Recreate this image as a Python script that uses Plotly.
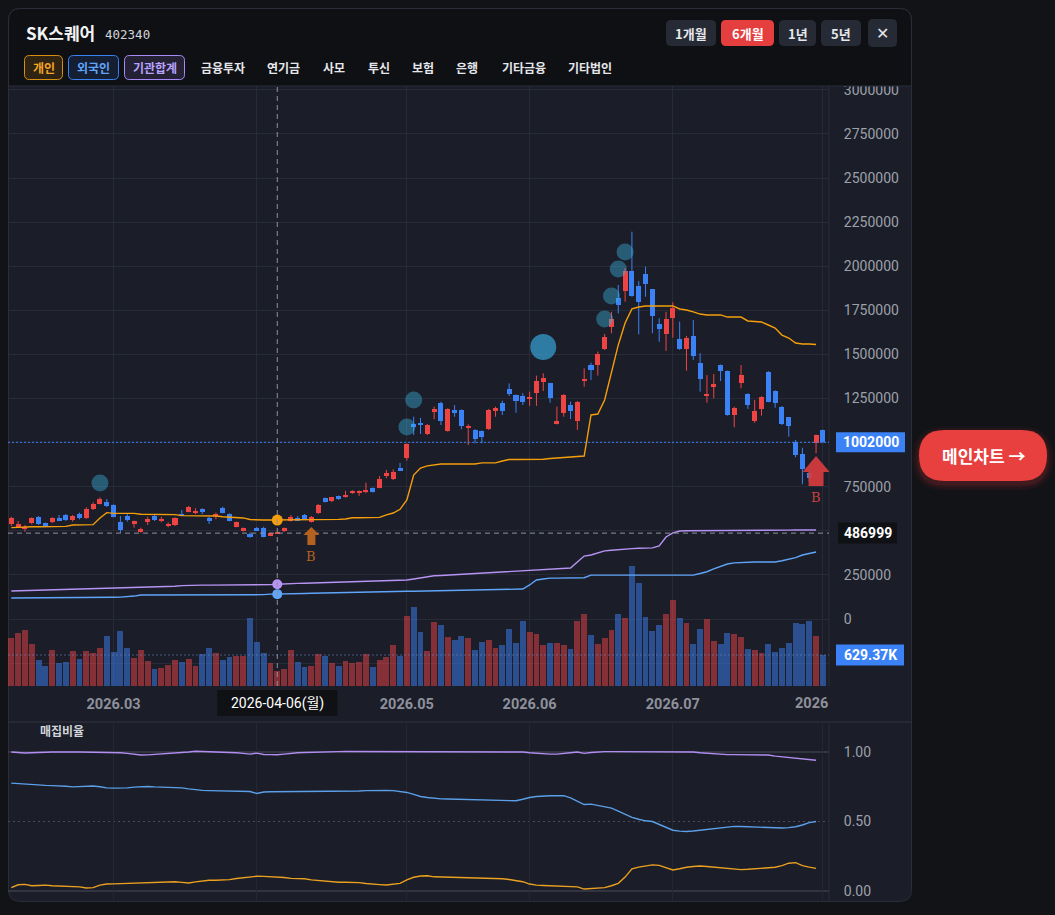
import plotly.graph_objects as go

W, H = 1055, 915

# ---------------- data ----------------
open_ = [537000, 523000, 510000, 543000, 577000, 543000, 548000, 571000, 590000, 561000,
         595000, 571000, 624000, 654000, 662000, 646000, 552000, 586000, 537000, 495000,
         552000, 584000, 561000, 529000, 533000, 590000, 608000, 599000, 622000, 571000,
         586000, 628000, 595000, 523000, 501000, 480000, 514000, 518000, 475000, 487000,
         499000, 557000, 574000, 590000, 552000, 599000, 684000, 671000, 697000, 693000,
         713000, 713000, 722000, 741000, 744000, 811000, 792000, 854000, 911000, 1106000,
         1110000, 1047000, 1175000, 1223000, 1068000, 1185000, 1185000, 1087000, 1072000, 1066000,
         1077000, 1181000, 1226000, 1302000, 1270000, 1264000, 1251000, 1283000, 1345000, 1336000,
         1106000, 1170000, 1213000, 1124000, 1349000, 1440000, 1440000, 1531000, 1657000, 1822000,
         1860000, 1973000, 1888000, 1954000, 1869000, 1673000, 1614000, 1708000, 1588000, 1529000,
         1605000, 1453000, 1266000, 1321000, 1440000, 1406000, 1157000, 1340000, 1276000, 1123000,
         1189000, 1402000, 1294000, 1204000, 1144000, 1005000, 934000, 826000, 996000, 1072000]
high = [580000, 556000, 533000, 577000, 584000, 547000, 577000, 590000, 595000, 590000,
        603000, 633000, 662000, 690000, 680000, 650000, 584000, 599000, 558000, 518000,
        580000, 594000, 580000, 548000, 577000, 618000, 641000, 628000, 628000, 580000,
        603000, 637000, 599000, 552000, 519000, 492000, 522000, 523000, 490000, 494000,
        519000, 590000, 584000, 595000, 584000, 652000, 689000, 692000, 700000, 727000,
        731000, 729000, 773000, 746000, 811000, 845000, 849000, 885000, 996000, 1147000,
        1140000, 1106000, 1204000, 1232000, 1195000, 1213000, 1188000, 1104000, 1076000, 1069000,
        1191000, 1204000, 1238000, 1336000, 1273000, 1280000, 1289000, 1380000, 1393000, 1339000,
        1204000, 1276000, 1232000, 1236000, 1421000, 1453000, 1516000, 1616000, 1742000, 1894000,
        1990000, 2196000, 1916000, 1998000, 1871000, 1705000, 1742000, 1796000, 1686000, 1605000,
        1695000, 1507000, 1383000, 1389000, 1443000, 1409000, 1204000, 1440000, 1280000, 1242000,
        1263000, 1406000, 1297000, 1208000, 1145000, 1015000, 971000, 845000, 1046000, 1074000]
low = [527000, 516000, 495000, 537000, 533000, 524000, 544000, 556000, 556000, 552000,
       565000, 567000, 618000, 650000, 635000, 577000, 489000, 552000, 518000, 489000,
       533000, 556000, 548000, 520000, 527000, 584000, 605000, 594000, 594000, 539000,
       565000, 599000, 554000, 520000, 496000, 461000, 499000, 463000, 471000, 482000,
       493000, 552000, 556000, 561000, 547000, 595000, 661000, 662000, 675000, 688000,
       709000, 697000, 713000, 717000, 741000, 798000, 788000, 839000, 898000, 1043000,
       1049000, 1043000, 1132000, 1100000, 1062000, 1147000, 1076000, 987000, 996000, 996000,
       1072000, 1147000, 1157000, 1264000, 1170000, 1213000, 1208000, 1208000, 1293000, 1226000,
       1103000, 1147000, 1134000, 1072000, 1317000, 1355000, 1380000, 1525000, 1620000, 1733000,
       1799000, 1827000, 1614000, 1827000, 1620000, 1572000, 1520000, 1595000, 1526000, 1408000,
       1469000, 1289000, 1226000, 1251000, 1349000, 1153000, 1087000, 1308000, 1191000, 1113000,
       1153000, 1229000, 1198000, 1100000, 1034000, 917000, 764000, 777000, 940000, 996000]
close = [574000, 537000, 523000, 571000, 539000, 529000, 571000, 561000, 561000, 584000,
         571000, 622000, 652000, 680000, 639000, 580000, 505000, 561000, 556000, 512000,
         565000, 561000, 565000, 540000, 571000, 586000, 637000, 612000, 608000, 561000,
         594000, 603000, 557000, 548000, 514000, 467000, 501000, 467000, 486000, 490000,
         514000, 580000, 557000, 567000, 580000, 646000, 663000, 690000, 679000, 703000,
         726000, 726000, 731000, 722000, 792000, 826000, 835000, 841000, 992000, 1090000,
         1100000, 1100000, 1191000, 1124000, 1191000, 1170000, 1096000, 1096000, 1019000, 1030000,
         1185000, 1195000, 1181000, 1276000, 1238000, 1232000, 1260000, 1349000, 1368000, 1255000,
         1124000, 1270000, 1181000, 1229000, 1361000, 1412000, 1503000, 1597000, 1699000, 1780000,
         1973000, 1833000, 1799000, 1899000, 1720000, 1643000, 1699000, 1765000, 1529000, 1592000,
         1493000, 1359000, 1276000, 1331000, 1408000, 1157000, 1195000, 1383000, 1213000, 1179000,
         1260000, 1232000, 1223000, 1106000, 1096000, 930000, 849000, 798000, 1043000, 1002000]
volume = [968000, 1070000, 1137000, 853000, 528000, 406000, 731000, 473000, 487000, 717000,
          548000, 717000, 664000, 765000, 1015000, 690000, 1117000, 765000, 574000, 731000,
          508000, 339000, 371000, 426000, 528000, 493000, 548000, 406000, 644000, 765000,
          676000, 528000, 583000, 615000, 615000, 1374000, 887000, 664000, 461000, 305000,
          345000, 731000, 481000, 380000, 406000, 644000, 609000, 461000, 406000, 508000,
          461000, 481000, 644000, 380000, 528000, 583000, 832000, 615000, 1421000, 1598000,
          1090000, 711000, 1293000, 1238000, 989000, 934000, 1015000, 968000, 731000, 899000,
          934000, 765000, 832000, 1157000, 879000, 1320000, 1090000, 1056000, 832000, 867000,
          867000, 832000, 751000, 1320000, 1462000, 1035000, 853000, 968000, 1137000, 1462000,
          1374000, 2436000, 2085000, 1395000, 1117000, 1238000, 1462000, 1746000, 1374000, 1285000,
          853000, 1157000, 1354000, 920000, 853000, 1082000, 1056000, 1001000, 751000, 731000,
          676000, 847000, 696000, 765000, 879000, 1285000, 1259000, 1320000, 1015000, 629370]

# cumulative net-buy lines drawn on the price scale (개인 / 기관합계 / 외국인)
line_individual = [518000, 521000, 523000, 523000, 523000, 523000, 523000, 524000, 525000, 533000,
                   533000, 533000, 535000, 573000, 603000, 599000, 599000, 599000, 599000, 594000,
                   594000, 594000, 594000, 594000, 592000, 586000, 586000, 586000, 586000, 586000,
                   584000, 580000, 578000, 578000, 573000, 564000, 561000, 561000, 561000, 561000,
                   565000, 565000, 565000, 565000, 565000, 565000, 565000, 565000, 565000, 567000,
                   574000, 574000, 574000, 574000, 576000, 590000, 601000, 622000, 675000, 816000,
                   856000, 868000, 873000, 879000, 879000, 879000, 879000, 879000, 879000, 885000,
                   885000, 885000, 896000, 904000, 904000, 904000, 904000, 904000, 906000, 910000,
                   913000, 916000, 919000, 921000, 924000, 1157000, 1162000, 1242000, 1400000, 1554000,
                   1678000, 1758000, 1769000, 1775000, 1775000, 1775000, 1775000, 1775000, 1758000, 1752000,
                   1741000, 1729000, 1724000, 1724000, 1724000, 1712000, 1712000, 1712000, 1690000, 1687000,
                   1684000, 1667000, 1650000, 1610000, 1593000, 1565000, 1559000, 1559000, 1556000]
line_institution = [159000, 160000, 161000, 162000, 163000, 164000, 165000, 166000, 167000, 168000,
                    169000, 170000, 171000, 172000, 173000, 174000, 175000, 176000, 177000, 178000,
                    179000, 180000, 181000, 183000, 186000, 189000, 191000, 191000, 192000, 192000,
                    192000, 193000, 193000, 193000, 193000, 194000, 194000, 194000, 195000, 197000,
                    200000, 201000, 202000, 203000, 204000, 205000, 206000, 206000, 207000, 208000,
                    209000, 210000, 211000, 212000, 214000, 215000, 217000, 219000, 221000, 227000,
                    233000, 240000, 245000, 247000, 249000, 251000, 254000, 256000, 258000, 261000,
                    263000, 265000, 267000, 270000, 272000, 274000, 276000, 278000, 281000, 283000,
                    285000, 287000, 289000, 323000, 357000, 363000, 374000, 386000, 390000, 394000,
                    397000, 399000, 401000, 402000, 403000, 414000, 465000, 488000, 499000, 500000,
                    500000, 501000, 501000, 501000, 502000, 502000, 502000, 503000, 503000, 503000,
                    503000, 504000, 504000, 504000, 504000, 505000, 505000, 505000, 505000]
line_foreign = [119000, 119000, 119000, 119000, 119000, 120000, 120000, 120000, 120000, 120000,
                121000, 121000, 122000, 122000, 123000, 123000, 124000, 125000, 130000, 136000,
                136000, 136000, 136000, 136000, 136000, 136000, 136000, 136000, 136000, 136000,
                136000, 136000, 136000, 136000, 136000, 136000, 136000, 138000, 141000, 141000,
                142000, 143000, 144000, 145000, 146000, 147000, 148000, 149000, 150000, 151000,
                152000, 153000, 154000, 154000, 155000, 155000, 156000, 156000, 157000, 157000,
                158000, 158000, 159000, 159000, 159000, 160000, 161000, 162000, 163000, 164000,
                165000, 166000, 167000, 168000, 169000, 170000, 193000, 221000, 227000, 232000,
                232000, 232000, 232000, 233000, 234000, 249000, 249000, 249000, 249000, 249000,
                249000, 249000, 249000, 249000, 249000, 249000, 249000, 249000, 249000, 249000,
                249000, 258000, 268000, 284000, 300000, 312000, 318000, 321000, 323000, 323000,
                323000, 323000, 323000, 330000, 340000, 348000, 363000, 372000, 380000]

# 매집비율 panel
ratio_institution = [1.000, 0.995, 0.993, 0.995, 0.998, 1.000, 1.000, 1.000, 0.998, 1.000,
                     1.000, 1.000, 0.999, 1.000, 1.000, 1.000, 0.995, 0.990, 0.983, 0.978,
                     0.979, 0.982, 0.983, 0.986, 0.990, 0.995, 1.000, 1.005, 1.004, 1.000,
                     1.000, 1.000, 0.998, 0.995, 0.990, 0.985, 0.992, 0.982, 0.981, 0.980,
                     0.985, 0.992, 0.995, 0.996, 0.998, 1.000, 1.004, 1.004, 1.003, 1.004,
                     1.004, 1.003, 1.004, 1.004, 1.004, 1.003, 1.004, 1.004, 1.004, 1.004,
                     1.003, 1.004, 1.004, 1.004, 1.004, 1.003, 1.004, 1.004, 1.004, 1.003,
                     1.003, 1.004, 1.004, 1.003, 1.002, 1.000, 0.995, 0.990, 0.986, 0.985,
                     0.985, 0.988, 0.995, 1.000, 0.990, 0.996, 1.002, 1.003, 1.003, 1.003,
                     1.003, 1.003, 1.002, 1.003, 1.003, 1.003, 1.003, 1.002, 1.002, 1.001,
                     1.000, 0.995, 0.991, 0.988, 0.985, 0.981, 0.981, 0.981, 0.981, 0.981,
                     0.981, 0.978, 0.970, 0.966, 0.962, 0.958, 0.951, 0.946, 0.941]
ratio_foreign = [0.776, 0.772, 0.767, 0.763, 0.761, 0.760, 0.758, 0.757, 0.754, 0.749,
                 0.750, 0.753, 0.755, 0.750, 0.742, 0.740, 0.740, 0.742, 0.747, 0.751,
                 0.752, 0.749, 0.747, 0.746, 0.745, 0.742, 0.735, 0.728, 0.724, 0.722,
                 0.721, 0.720, 0.719, 0.718, 0.717, 0.716, 0.702, 0.712, 0.714, 0.714,
                 0.715, 0.716, 0.716, 0.715, 0.715, 0.714, 0.714, 0.715, 0.714, 0.714,
                 0.716, 0.719, 0.722, 0.724, 0.724, 0.723, 0.722, 0.716, 0.709, 0.695,
                 0.680, 0.673, 0.667, 0.663, 0.662, 0.661, 0.660, 0.658, 0.655, 0.652,
                 0.651, 0.650, 0.650, 0.649, 0.649, 0.660, 0.673, 0.680, 0.685, 0.685,
                 0.685, 0.686, 0.670, 0.644, 0.622, 0.625, 0.617, 0.608, 0.596, 0.575,
                 0.553, 0.530, 0.516, 0.505, 0.500, 0.478, 0.458, 0.437, 0.431, 0.428,
                 0.432, 0.438, 0.444, 0.449, 0.455, 0.461, 0.465, 0.464, 0.462, 0.460,
                 0.458, 0.455, 0.452, 0.453, 0.456, 0.462, 0.475, 0.492, 0.500]
ratio_individual = [0.024, 0.045, 0.048, 0.038, 0.040, 0.042, 0.038, 0.036, 0.036, 0.036,
                    0.030, 0.022, 0.024, 0.042, 0.050, 0.051, 0.053, 0.055, 0.057, 0.060,
                    0.060, 0.062, 0.064, 0.066, 0.067, 0.062, 0.058, 0.066, 0.073, 0.077,
                    0.077, 0.077, 0.082, 0.090, 0.096, 0.102, 0.106, 0.105, 0.104, 0.103,
                    0.097, 0.091, 0.091, 0.088, 0.080, 0.075, 0.070, 0.066, 0.063, 0.063,
                    0.063, 0.060, 0.054, 0.048, 0.046, 0.043, 0.048, 0.055, 0.080, 0.099,
                    0.108, 0.110, 0.102, 0.101, 0.100, 0.100, 0.099, 0.098, 0.096, 0.094,
                    0.092, 0.091, 0.088, 0.083, 0.076, 0.067, 0.050, 0.042, 0.040, 0.038,
                    0.036, 0.035, 0.034, 0.030, 0.014, 0.019, 0.021, 0.024, 0.038, 0.055,
                    0.100, 0.159, 0.172, 0.182, 0.188, 0.184, 0.170, 0.151, 0.160, 0.171,
                    0.176, 0.180, 0.176, 0.172, 0.168, 0.163, 0.158, 0.154, 0.156, 0.159,
                    0.162, 0.167, 0.171, 0.183, 0.200, 0.204, 0.183, 0.172, 0.163]

tick_idx = [15, 36, 58, 76, 97, 119]
tick_text = ["2026.03", "2026.04", "2026.05", "2026.06", "2026.07", "2026"]

price_ticks = [-250000, 0, 250000, 500000, 750000, 1000000, 1250000, 1500000, 1750000,
               2000000, 2250000, 2500000, 2750000, 3000000]

bubble_idx = [13, 58, 59, 78, 87, 88, 89, 90]
bubble_val = [771000, 1089000, 1242000, 1542000, 1701000, 1831000, 1985000, 2081000]
bubble_big = [False, False, False, True, False, False, False, False]

buy_idx = [44, 118]
buy_big = [False, True]

cross_idx = 39
cross_price = 486999
cross_date = "2026-04-06(월)"

# ---------------- geometry / style ----------------
XL, XR = 8, 829
MAIN_T, MAIN_B = 86, 686
SUB_T, SUB_B = 724, 900
BAR0, BAR_STEP = 11.3, 6.82
P_ZERO_Y, P_PER_PX = 619, 5670
V_PER_PX = 20300
R_ZERO_Y, R_PX = 891, 139

x_range = [(XL - BAR0) / BAR_STEP, (XR - BAR0) / BAR_STEP]
price_range = [(P_ZERO_Y - MAIN_B) * P_PER_PX, (P_ZERO_Y - MAIN_T) * P_PER_PX]
vol_range = [0, (MAIN_B - MAIN_T) * V_PER_PX]
ratio_range = [(R_ZERO_Y - SUB_B) / R_PX, (R_ZERO_Y - SUB_T) / R_PX]

PAGE = "#121317"
CARD = "#0f1014"
PANE = "#1b1d28"
BORDER = "#2b2e39"
GRID = "#272a37"
UP = "#ef4444"
DOWN = "#3b82f6"
UP_V = "rgba(239,68,68,0.50)"
DOWN_V = "rgba(59,130,246,0.50)"
C_IND = "#f59e0b"
C_INST = "#b794f4"
C_FOR = "#60a5fa"
CJK = "Noto Sans CJK KR, Noto Sans, sans-serif"
NUM = "Roboto, Noto Sans CJK KR, sans-serif"


def px(x):
    return x / W


def py(y):
    return 1 - y / H


def price_y(v):
    return P_ZERO_Y - v / P_PER_PX


def rpath(x0, y0, x1, y1, r, top=True, bottom=True):
    rt = r if top else 0
    rb = r if bottom else 0
    p = f"M{px(x0 + rt)},{py(y0)} L{px(x1 - rt)},{py(y0)} "
    p += f"Q{px(x1)},{py(y0)} {px(x1)},{py(y0 + rt)} " if rt else ""
    p += f"L{px(x1)},{py(y1 - rb)} "
    p += f"Q{px(x1)},{py(y1)} {px(x1 - rb)},{py(y1)} " if rb else ""
    p += f"L{px(x0 + rb)},{py(y1)} "
    p += f"Q{px(x0)},{py(y1)} {px(x0)},{py(y1 - rb)} " if rb else ""
    p += f"L{px(x0)},{py(y0 + rt)} "
    p += f"Q{px(x0)},{py(y0)} {px(x0 + rt)},{py(y0)} " if rt else ""
    return p + "Z"


shapes = []
annotations = []


def add_rrect(x0, y0, x1, y1, r, fill, line=None, lw=1, layer="above", top=True, bottom=True):
    shapes.append(dict(type="path", path=rpath(x0, y0, x1, y1, r, top, bottom), xref="paper", yref="paper",
                       fillcolor=fill, line=dict(color=line or "rgba(0,0,0,0)", width=lw if line else 0),
                       layer=layer))


def add_text(text, x, y, size, color, family=CJK, bold=False, xanchor="center"):
    annotations.append(dict(text=text, x=px(x), y=py(y), xref="paper", yref="paper", showarrow=False,
                            xanchor=xanchor, yanchor="middle",
                            font=dict(family=family, size=size, color=color, weight="bold" if bold else "normal")))


def add_hline_px(x0, x1, y, color, width=1, dash="solid", layer="above"):
    shapes.append(dict(type="line", xref="paper", yref="paper", x0=px(x0), x1=px(x1), y0=py(y), y1=py(y),
                       line=dict(color=color, width=width, dash=dash), layer=layer))


def add_vline_px(x, y0, y1, color, width=1, layer="above"):
    shapes.append(dict(type="line", xref="paper", yref="paper", x0=px(x), x1=px(x), y0=py(y0), y1=py(y1),
                       line=dict(color=color, width=width), layer=layer))


# card + panes
add_rrect(8.5, 8.5, 911.5, 901.5, 12, PANE, BORDER, 1, layer="below")
add_rrect(8.5, 8.5, 911.5, 86, 12, CARD, BORDER, 1, layer="above", bottom=False)
add_hline_px(9, 911, 722, BORDER, 1.5)
add_vline_px(829, MAIN_T, MAIN_B, BORDER)
add_vline_px(829, 723, 901, BORDER)

# header
add_text("SK스퀘어", 24, 33, 17, "#f3f4f6", bold=True, xanchor="left")
add_text("402340", 103, 34.5, 12.5, "#d1d5db", family="DejaVu Sans Mono", xanchor="left")
periods = [("1개월", 666, 716, False), ("6개월", 721, 774, True), ("1년", 779, 816, False), ("5년", 821, 861, False)]
for label, a, b, active in periods:
    add_rrect(a, 20, b, 46, 5, "#e53e3e" if active else "#262a35")
    add_text(label, (a + b) / 2, 33.5, 13, "#ffffff" if active else "#e5e7eb", bold=True)
add_rrect(868, 19, 897, 47, 5, "#262a35")
add_text("✕", 882.5, 33.5, 16, "#e5e7eb", family="DejaVu Sans")

chips = [("개인", 24, 63, "#d9900f", "rgba(245,158,11,0.14)", "#f5a524"),
         ("외국인", 68, 119, "#3b82f6", "rgba(59,130,246,0.14)", "#60a5fa"),
         ("기관합계", 124, 185, "#a78bfa", "rgba(167,139,250,0.14)", "#b9a2fb")]
for label, a, b, lc, fc, tc in chips:
    add_rrect(a + 0.5, 55.5, b - 0.5, 79.5, 5, fc, lc, 1)
    add_text(label, (a + b) / 2, 67.5, 12, tc, bold=True)
for label, a in [("금융투자", 199), ("연기금", 265), ("사모", 321), ("투신", 366), ("보험", 410),
                 ("은행", 454), ("기타금융", 500), ("기타법인", 566)]:
    add_text(label, a, 67.5, 12, "#e5e7eb", bold=True, xanchor="left")

# side button with soft glow
for grow, alpha in [(7, 0.035), (5, 0.05), (3, 0.07), (1.5, 0.09)]:
    add_rrect(919 - grow, 430 - grow + 3, 1047 + grow, 481 + grow + 3, 25.5 + grow,
              f"rgba(229,62,62,{alpha})", layer="below")
add_rrect(919, 430, 1047, 481, 25.5, "#e8403f", layer="below")
add_text("메인차트 →", 983, 455, 17, "#ffffff", bold=True)

# sub pane label and ref lines
add_text("매집비율", 38, 730, 12, "#d1d5db", bold=True, xanchor="left")
for lvl, dsh in [(1.0, "solid"), (0.5, "2px,3px"), (0.0, "solid")]:
    shapes.append(dict(type="line", xref="paper", yref="y3", x0=px(XL), x1=px(XR), y0=lvl, y1=lvl,
                       line=dict(color="#4a4d59", width=1, dash=dsh), layer="below"))

# price lines
last_close = close[-1]
last_vol = volume[-1]
shapes.append(dict(type="line", xref="paper", yref="y2", x0=px(XL), x1=px(XR), y0=last_close, y1=last_close,
                   line=dict(color="#3b82f6", width=1, dash="2px,2px"), layer="above"))
shapes.append(dict(type="line", xref="paper", yref="y", x0=px(XL), x1=px(XR), y0=last_vol, y1=last_vol,
                   line=dict(color="rgba(110,140,200,0.55)", width=1, dash="2px,2px"), layer="above"))
# crosshair
shapes.append(dict(type="line", xref="x", yref="paper", x0=cross_idx, x1=cross_idx, y0=py(MAIN_B), y1=py(MAIN_T),
                   line=dict(color="#8e929d", width=1, dash="5px,4px"), layer="above"))
shapes.append(dict(type="line", xref="paper", yref="y2", x0=px(XL), x1=px(XR), y0=cross_price, y1=cross_price,
                   line=dict(color="#8e929d", width=1, dash="5px,4px"), layer="above"))

# buy arrows anchored to candle lows
for i, big in zip(buy_idx, buy_big):
    if big:
        tip, wing, bot, hw, sw, col, tcol, ty = -2.7, -18.7, -32.7, 13.5, 7.5, "rgba(214,60,62,0.92)", "#c94040", -44.7
    else:
        tip, wing, bot, hw, sw, col, tcol, ty = -4.5, -12.5, -22.5, 8, 4, "#b5611f", "#b5611f", -33.5
    path = f"M0,{tip} L{hw},{wing} L{sw},{wing} L{sw},{bot} L{-sw},{bot} L{-sw},{wing} L{-hw},{wing} Z"
    shapes.append(dict(type="path", xref="x", yref="y2", xsizemode="pixel", ysizemode="pixel",
                       xanchor=i, yanchor=low[i], path=path, fillcolor=col, line=dict(width=0), layer="above"))
    annotations.append(dict(text="B", x=i, y=low[i], xref="x", yref="y2", yshift=ty, showarrow=False,
                            font=dict(family="DejaVu Serif, serif", size=13, color=tcol)))


# value labels on the right scale
def label_box(x0, x1, yc, hgt, fill, text):
    shapes.append(dict(type="rect", xref="paper", yref="paper", x0=px(x0), x1=px(x1),
                       y0=py(yc + hgt / 2), y1=py(yc - hgt / 2), fillcolor=fill, line=dict(width=0), layer="above"))
    add_text(text, (x0 + x1) / 2, yc, 14, "#ffffff", family=NUM, bold=True)


label_box(836, 905, price_y(last_close), 20, "#3b82f6", f"{last_close}")
label_box(838, 897, price_y(cross_price), 21, "#101114", f"{cross_price}")
label_box(836, 904, MAIN_B - last_vol / V_PER_PX, 21, "#3b82f6", f"{last_vol / 1000:.2f}K")
# crosshair date label
cx = BAR0 + BAR_STEP * cross_idx
shapes.append(dict(type="rect", xref="paper", yref="paper", x0=px(cx - 60), x1=px(cx + 60), y0=py(716), y1=py(690),
                   fillcolor="#101114", line=dict(width=0), layer="above"))
add_text(cross_date, cx, 703, 14, "#ffffff", family=NUM)
# last tick label shifted to stay inside the pane
add_text(tick_text[-1], 811, 703, 14.5, "#8e919c", family=NUM, bold=True)


# tick labels that sit under a value label box are left blank (hidden in the chart)
def covered_price(v):
    y = price_y(v)
    boxes = [price_y(last_close), price_y(cross_price), MAIN_B - last_vol / V_PER_PX]
    return any(abs(y - b) < 14 for b in boxes)


price_ticktext = ["" if covered_price(v) else f"{v}" for v in price_ticks]
x_ticktext = ["" if abs((BAR0 + BAR_STEP * t) - cx) < 75 else s for t, s in zip(tick_idx, tick_text)]
x_ticktext[-1] = ""

# ---------------- traces ----------------
idx = list(range(len(close)))
is_up = [c >= o for o, c in zip(open_, close)]
traces = []

traces.append(go.Bar(x=idx, y=volume, width=0.86, xaxis="x", yaxis="y",
                     marker=dict(color=[UP_V if u else DOWN_V for u in is_up], line=dict(width=0)),
                     hoverinfo="skip"))

for want, col in [(True, UP), (False, DOWN)]:
    xs, ys = [], []
    for i in idx:
        if is_up[i] == want:
            xs += [i, i, None]
            ys += [low[i], high[i], None]
    traces.append(go.Scatter(x=xs, y=ys, mode="lines", line=dict(color=col, width=1), xaxis="x", yaxis="y2",
                             hoverinfo="skip"))

bases = [min(o, c) for o, c in zip(open_, close)]
heights = [max(abs(c - o), P_PER_PX) for o, c in zip(open_, close)]
traces.append(go.Bar(x=idx, y=heights, base=bases, width=0.74, xaxis="x", yaxis="y2",
                     marker=dict(color=[UP if u else DOWN for u in is_up], line=dict(width=0)), hoverinfo="skip"))

for series, col in [(line_foreign, C_FOR), (line_institution, C_INST), (line_individual, C_IND)]:
    traces.append(go.Scatter(x=list(range(len(series))), y=series, mode="lines", line=dict(color=col, width=1.4),
                             xaxis="x", yaxis="y2", hoverinfo="skip"))

traces.append(go.Scatter(x=bubble_idx, y=bubble_val, mode="markers", xaxis="x", yaxis="y2", hoverinfo="skip",
                         marker=dict(size=[26 if b else 17 for b in bubble_big],
                                     color=["rgba(59,183,240,0.88)" if b else "rgba(59,185,230,0.58)" for b in bubble_big],
                                     line=dict(width=0))))

for series, col, sz in [(line_foreign, C_FOR, 10), (line_institution, C_INST, 10), (line_individual, C_IND, 11)]:
    traces.append(go.Scatter(x=[cross_idx], y=[series[cross_idx]], mode="markers", xaxis="x", yaxis="y2",
                             marker=dict(size=sz, color=col, line=dict(width=0)), hoverinfo="skip"))

for series, col in [(ratio_institution, "#b18ef0"), (ratio_foreign, "#5b9fe8"), (ratio_individual, "#eaa020")]:
    traces.append(go.Scatter(x=list(range(len(series))), y=series, mode="lines", line=dict(color=col, width=1.4),
                             xaxis="x2", yaxis="y3", hoverinfo="skip"))

fig = go.Figure(data=traces)
tickfont_price = dict(family=NUM, size=14, color="#9da1ab")
fig.update_layout(
    width=W, height=H, margin=dict(l=0, r=0, t=0, b=0, pad=0, autoexpand=False),
    paper_bgcolor=PAGE, plot_bgcolor="rgba(0,0,0,0)",
    showlegend=False, barmode="overlay", bargap=0, hovermode=False,
    xaxis=dict(domain=[px(XL), px(XR)], range=x_range, anchor="y", tickmode="array", tickvals=tick_idx,
               ticktext=x_ticktext, showgrid=True, gridcolor=GRID, gridwidth=1, zeroline=False,
               showline=False, ticks="outside", ticklen=5, tickcolor="rgba(0,0,0,0)", automargin=False,
               tickfont=dict(family=NUM, size=14.5, color="#8e919c", weight="bold"), fixedrange=True),
    yaxis=dict(domain=[py(MAIN_B), py(MAIN_T)], range=vol_range, visible=False, fixedrange=True, automargin=False),
    yaxis2=dict(overlaying="y", side="right", anchor="x", range=price_range, tickmode="array",
                tickvals=price_ticks, ticktext=price_ticktext, showgrid=True, gridcolor=GRID, zeroline=False,
                showline=False, ticks="outside", ticklen=11, tickcolor="rgba(0,0,0,0)", tickfont=tickfont_price,
                fixedrange=True, automargin=False),
    xaxis2=dict(domain=[px(XL), px(XR)], range=x_range, anchor="y3", tickmode="array", tickvals=tick_idx,
                showticklabels=False, showgrid=True, gridcolor="#242734", zeroline=False, showline=False,
                fixedrange=True, automargin=False),
    yaxis3=dict(domain=[py(SUB_B), py(SUB_T)], range=ratio_range, side="right", anchor="x2",
                tickmode="array", tickvals=[0, 0.5, 1], ticktext=["0.00", "0.50", "1.00"], showgrid=False,
                zeroline=False, showline=False, ticks="outside", ticklen=11, tickcolor="rgba(0,0,0,0)",
                tickfont=tickfont_price, fixedrange=True, automargin=False),
    shapes=shapes, annotations=annotations,
)

fig.write_html("out.html", config={"displayModeBar": False},
               post_script="document.body.style.margin='0';document.body.style.overflow='hidden';")
